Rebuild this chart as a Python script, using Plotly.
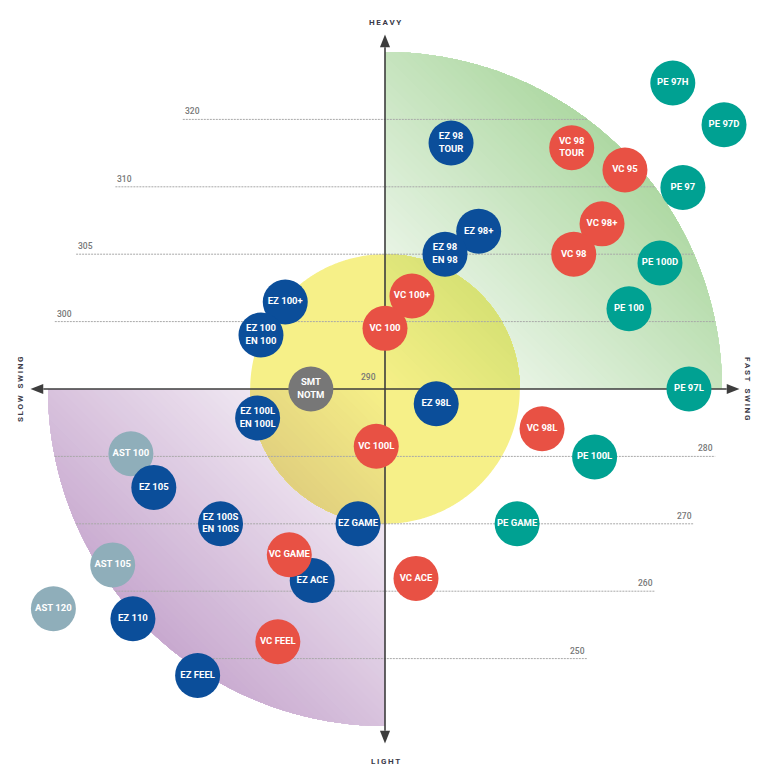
import math
import plotly.graph_objects as go

# ---------------- data (chart units: centre = 0, one level step = 1) ----------------
ast_names = ["AST 100", "AST 105", "AST 120"]
ast_x = [-3.77, -4.04, -4.92]
ast_y = [-0.96, -2.61, -3.26]

smt_names = ["SMT<br>NOTM"]
smt_x = [-1.10]
smt_y = [0.00]

ez_names = ["EZ 98<br>TOUR", "EZ 98+", "EZ 98<br>EN 98", "EZ 100+", "EZ 100<br>EN 100",
            "EZ 100L<br>EN 100L", "EZ 98L", "EZ 105", "EZ 100S<br>EN 100S", "EZ GAME",
            "EZ ACE", "EZ 110", "EZ FEEL"]
ez_x = [0.98, 1.39, 0.89, -1.48, -1.84, -1.89, 0.76, -3.43, -2.44, -0.40, -1.08, -3.74, -2.78]
ez_y = [3.65, 2.34, 2.00, 1.29, 0.80, -0.43, -0.22, -1.46, -2.00, -2.00, -2.84, -3.41, -4.25]

vc_names = ["VC 98<br>TOUR", "VC 95", "VC 98+", "VC 98", "VC 100+", "VC 100", "VC 100L",
            "VC 98L", "VC GAME", "VC ACE", "VC FEEL"]
vc_x = [2.77, 3.56, 3.22, 2.80, 0.40, 0.00, -0.13, 2.33, -1.42, 0.46, -1.59]
vc_y = [3.58, 3.25, 2.45, 2.00, 1.38, 0.90, -0.85, -0.59, -2.46, -2.81, -3.75]

pe_names = ["PE 97H", "PE 97D", "PE 97", "PE 100D", "PE 100", "PE 97L", "PE 100L", "PE GAME"]
pe_x = [4.27, 5.03, 4.42, 4.08, 3.62, 4.51, 3.11, 1.96]
pe_y = [4.54, 3.92, 2.99, 1.87, 1.19, 0.00, -1.01, -2.00]

level_labels = ["320", "310", "305", "300", "290", "280", "270", "260", "250"]
level_pos = [4, 3, 2, 1, 0, -1, -2, -3, -4]

axis_labels = {"top": "HEAVY", "bottom": "LIGHT", "left": "SLOW SWING", "right": "FAST SWING"}

# ---------------- styling ----------------
PX = 67.4                      # pixels per unit
W, H = 761, 777                # window size
OFF = 8                        # page body margin
CX, CY = 385, 389              # centre in window pixels
R_BIG, R_YEL = 5.0, 2.0

COL = {"AST": "#8faeba", "SMT": "#777777", "EZ": "#0b4e9a", "VC": "#e85144", "PE": "#00a192"}
GREEN_END = (140, 200, 124)
PURPLE_END = (177, 133, 187)
YELLOW = (246, 240, 136)


def lerp(c0, c1, t):
    return tuple(c0[i] + (c1[i] - c0[i]) * t for i in range(3))


def mult(c0, c1):
    return tuple(c0[i] * c1[i] / 255.0 for i in range(3))


def rgb(c):
    return "rgb(%d,%d,%d)" % tuple(int(round(v)) for v in c)


def quarter(r, a0, n=180):
    pts = [(0.0, 0.0)]
    for i in range(n + 1):
        a = a0 + (math.pi / 2) * i / n
        pts.append((r * math.cos(a), r * math.sin(a)))
    return pts


def clip(poly, a, b, c):
    """keep a*x + b*y >= c"""
    out = []
    n = len(poly)
    for i in range(n):
        P, Q = poly[i], poly[(i + 1) % n]
        fp = a * P[0] + b * P[1] - c
        fq = a * Q[0] + b * Q[1] - c
        if fp >= 0:
            out.append(P)
        if (fp >= 0) != (fq >= 0):
            t = fp / (fp - fq)
            out.append((P[0] + t * (Q[0] - P[0]), P[1] + t * (Q[1] - P[1])))
    return out


def path(poly):
    return "M " + " L ".join("%.4f,%.4f" % p for p in poly) + " Z"


shapes = []


def add_poly(poly, color):
    if len(poly) >= 3:
        shapes.append(dict(type="path", path=path(poly), fillcolor=color,
                           line=dict(width=0), layer="below"))


N = 60
SMAX = R_BIG * math.sqrt(2)
# gradient quarter discs (green: upper right, purple: lower left)
for sign, a0, end in [(1, 0.0, GREEN_END), (-1, math.pi, PURPLE_END)]:
    base = quarter(R_BIG, a0)
    for k in range(N):
        s0 = SMAX * k / N
        t = (s0 + SMAX / N / 2) / 10.0
        add_poly(clip(base, sign, sign, s0) if k else base, rgb(lerp((255, 255, 255), end, t)))

# yellow circle: plain in the white quadrants
add_poly(quarter(R_YEL, math.pi / 2), rgb(YELLOW))
add_poly(quarter(R_YEL, 3 * math.pi / 2), rgb(YELLOW))
# yellow blended (multiply) over the gradient quadrants
for sign, a0, end in [(1, 0.0, GREEN_END), (-1, math.pi, PURPLE_END)]:
    base = quarter(R_YEL, a0)
    for k in range(N):
        s0 = SMAX * k / N
        if s0 > R_YEL * math.sqrt(2):
            break
        t = (s0 + SMAX / N / 2) / 10.0
        col = mult(YELLOW, lerp((255, 255, 255), end, t))
        add_poly(clip(base, sign, sign, s0) if k else base, rgb(col))

annotations = []
LBL_FONT = dict(family="Roboto, Arial, sans-serif", size=8.5, color="#777777", weight=500)

# level lines and labels
for lab, L in zip(level_labels, level_pos):
    if L == 0:
        annotations.append(dict(x=-0.1, y=0.18, text=lab, showarrow=False, xanchor="right",
                                yanchor="middle", font=LBL_FONT))
        continue
    w = math.sqrt(R_BIG ** 2 - L ** 2)
    shapes.append(dict(type="line", x0=-w, x1=w, y0=L, y1=L, layer="below",
                       line=dict(color="#a8a8a8", width=1, dash="2px,1px")))
    if L > 0:
        annotations.append(dict(x=-w, y=L, text=lab, showarrow=False, xanchor="left",
                                yanchor="middle", yshift=8, font=LBL_FONT))
    else:
        annotations.append(dict(x=w, y=L, text=lab, showarrow=False, xanchor="right",
                                yanchor="middle", yshift=8, font=LBL_FONT))

# axes with arrow heads
AX = 5.26
AL, AW = 0.19, 0.075
ax_col = "#3d3d3d"
shapes.append(dict(type="line", x0=-AX + AL, x1=AX - AL, y0=0, y1=0, layer="below",
                   line=dict(color=ax_col, width=1.6)))
shapes.append(dict(type="line", x0=0, x1=0, y0=-AX + AL, y1=AX - AL, layer="below",
                   line=dict(color=ax_col, width=1.6)))
for d in (1, -1):
    shapes.append(dict(type="path", layer="below", fillcolor=ax_col, line=dict(width=0),
                       path=path([(d * AX, 0), (d * (AX - AL), AW), (d * (AX - AL), -AW)])))
    shapes.append(dict(type="path", layer="below", fillcolor=ax_col, line=dict(width=0),
                       path=path([(0, d * AX), (AW, d * (AX - AL)), (-AW, d * (AX - AL))])))


def spaced(s):
    return "\u2009".join(" \u2009" if ch == " " else ch for ch in s)


AX_FONT = dict(family="Roboto, Arial, sans-serif", size=8, color="#3a3a48", weight="bold")
annotations += [
    dict(x=0, y=(CY - 22) / PX, text=spaced(axis_labels["top"]), showarrow=False, font=AX_FONT),
    dict(x=0, y=(CY - 761) / PX, text=spaced(axis_labels["bottom"]), showarrow=False, font=AX_FONT),
    dict(x=(20 - CX) / PX, y=0, text=spaced(axis_labels["left"]), showarrow=False,
         textangle=-90, font=AX_FONT),
    dict(x=(748 - CX) / PX, y=0, text=spaced(axis_labels["right"]), showarrow=False,
         textangle=90, font=AX_FONT),
]

fig = go.Figure()
TXT = dict(family="Roboto, Arial, sans-serif", size=9.5, color="white", weight="bold")
for key, nm, xs, ys in [("AST", ast_names, ast_x, ast_y), ("SMT", smt_names, smt_x, smt_y),
                        ("EZ", ez_names, ez_x, ez_y), ("VC", vc_names, vc_x, vc_y),
                        ("PE", pe_names, pe_x, pe_y)]:
    fig.add_trace(go.Scatter(
        x=xs, y=ys, text=nm, mode="markers+text", textposition="middle center",
        marker=dict(size=45, color=COL[key], line=dict(width=0), opacity=1),
        textfont=TXT, hoverinfo="skip", cliponaxis=False, showlegend=False))

fig.update_layout(
    width=W - OFF, height=H - OFF, margin=dict(l=0, r=0, t=0, b=0),
    paper_bgcolor="white", plot_bgcolor="white",
    xaxis=dict(range=[(OFF - CX) / PX, (W - CX) / PX], visible=False, fixedrange=True),
    yaxis=dict(range=[(CY - H) / PX, (CY - OFF) / PX], visible=False, fixedrange=True),
    shapes=shapes, annotations=annotations, showlegend=False,
)

fig.write_html("out.html")
